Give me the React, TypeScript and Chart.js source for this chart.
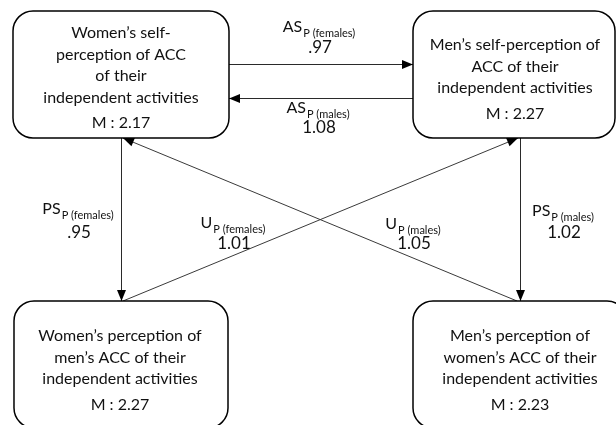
import React, { useEffect, useRef } from "react";
import { Chart, registerables } from "chart.js";

Chart.register(...registerables);

// ---------- data ----------
const nodeTitles: string[][] = [
  ["Women’s self-", "perception of ACC", "of their", "independent activities"],
  ["Men’s self-perception of", "ACC of their", "independent activities"],
  ["Women’s perception of", "men’s ACC of their", "independent activities"],
  ["Men’s perception of", "women’s ACC of their", "independent activities"],
];
const nodeMeans: number[] = [2.17, 2.27, 2.27, 2.23];

const pathNames: string[] = ["AS", "AS", "PS", "PS", "U", "U"];
const pathSubs: string[] = ["P (females)", "P (males)", "P (females)", "P (males)", "P (females)", "P (males)"];
const pathValues: number[] = [0.97, 1.08, 0.95, 1.02, 1.01, 1.05];

// ---------- layout (diagram coordinates, same units as the scales) ----------
const boxes = [
  { x0: 13, y0: 11, x1: 229, y1: 138, tx: 121, ty: 33 },
  { x0: 413, y0: 11, x1: 615, y1: 138, tx: 515, ty: 45 },
  { x0: 14, y0: 301, x1: 228, y1: 428, tx: 120, ty: 336 },
  { x0: 413, y0: 301, x1: 627, y1: 428, tx: 520, ty: 336 },
];
const edges = [
  { a: [229, 64.5], b: [413, 64.5], lx: 319, ly: 27, vy: 48 },
  { a: [413, 98.5], b: [229, 98.5], lx: 318, ly: 108, vy: 128 },
  { a: [121.5, 138], b: [121.5, 301], lx: 78, ly: 209, vy: 233 },
  { a: [520.5, 138], b: [520.5, 301], lx: 563, ly: 211, vy: 233 },
  { a: [123, 301], b: [518, 138], lx: 233, ly: 223, vy: 244 },
  { a: [517, 301], b: [123, 138], lx: 413, ly: 224, vy: 244 },
];

const FONT = "Lato, 'Open Sans', sans-serif";
const fmt = (v: number) => (v < 1 ? v.toFixed(2).replace(/^0/, "") : v.toFixed(2));

const diagramPlugin = {
  id: "diagram",
  beforeDraw(chart: any) {
    const ctx = chart.ctx;
    ctx.save();
    ctx.fillStyle = "#ffffff";
    ctx.fillRect(0, 0, chart.width, chart.height);
    ctx.restore();
  },
  afterDatasetsDraw(chart: any) {
    const ctx: CanvasRenderingContext2D = chart.ctx;
    const xs = chart.scales.x;
    const ys = chart.scales.y;
    const px = (v: number) => xs.getPixelForValue(v);
    const py = (v: number) => ys.getPixelForValue(v);
    ctx.save();

    // arrowheads
    edges.forEach((e) => {
      const ax = px(e.a[0]), ay = py(e.a[1]);
      const bx = px(e.b[0]), by = py(e.b[1]);
      const ang = Math.atan2(by - ay, bx - ax);
      const L = 11, W = 4.5;
      ctx.beginPath();
      ctx.moveTo(bx, by);
      ctx.lineTo(bx - L * Math.cos(ang) + W * Math.sin(ang), by - L * Math.sin(ang) - W * Math.cos(ang));
      ctx.lineTo(bx - L * Math.cos(ang) - W * Math.sin(ang), by - L * Math.sin(ang) + W * Math.cos(ang));
      ctx.closePath();
      ctx.fillStyle = "#000";
      ctx.fill();
    });

    // boxes
    boxes.forEach((b, i) => {
      const x0 = px(b.x0), x1 = px(b.x1), y0 = py(b.y0), y1 = py(b.y1);
      ctx.beginPath();
      (ctx as any).roundRect(x0, y0, x1 - x0, y1 - y0, 20);
      ctx.fillStyle = "#fff";
      ctx.fill();
      ctx.lineWidth = 1.5;
      ctx.strokeStyle = "#000";
      ctx.stroke();

      ctx.fillStyle = "#111";
      ctx.font = `16px ${FONT}`;
      ctx.textAlign = "center";
      ctx.textBaseline = "middle";
      const lines = nodeTitles[i];
      let y = b.ty;
      lines.forEach((t, k) => {
        ctx.fillText(t, px(b.tx), py(b.ty + k * 21.5));
        y = b.ty + k * 21.5;
      });
      ctx.fillText(`M : ${nodeMeans[i].toFixed(2)}`, px(b.tx), py(y + 25.5));
    });

    // path labels
    edges.forEach((e, i) => {
      const main = pathNames[i];
      const sub = pathSubs[i];
      ctx.fillStyle = "#111";
      ctx.textBaseline = "middle";
      ctx.font = `16px ${FONT}`;
      const wm = ctx.measureText(main).width;
      ctx.font = `11px ${FONT}`;
      const ws = ctx.measureText(sub).width;
      const start = px(e.lx) - (wm + ws + 1) / 2;
      ctx.textAlign = "left";
      ctx.font = `16px ${FONT}`;
      ctx.fillText(main, start, py(e.ly));
      ctx.font = `11px ${FONT}`;
      ctx.fillText(sub, start + wm + 1, py(e.ly + 6));
      ctx.textAlign = "center";
      ctx.font = `17px ${FONT}`;
      ctx.fillText(fmt(pathValues[i]), px(e.lx + 1), py(e.vy));
    });

    ctx.restore();
  },
};

export default function App() {
  const ref = useRef<HTMLCanvasElement | null>(null);
  useEffect(() => {
    if (!ref.current) return;
    const datasets = edges.map((e, i) => ({
      label: `${pathNames[i]} ${pathSubs[i]}`,
      data: [
        { x: e.a[0], y: e.a[1] },
        { x: e.b[0], y: e.b[1] },
      ],
      showLine: true,
      borderColor: i >= 4 ? "#3a3a3a" : "#2a2a2a",
      borderWidth: 1,
      pointRadius: 0,
      fill: false,
    }));
    const chart = new Chart(ref.current, {
      type: "scatter",
      data: { datasets },
      options: {
        animation: false,
        responsive: false,
        layout: { padding: 0 },
        plugins: { legend: { display: false }, tooltip: { enabled: false } },
        scales: {
          x: { type: "linear", min: 0, max: 616, display: false },
          y: { type: "linear", min: 0, max: 425, reverse: true, display: false },
        },
      },
      plugins: [diagramPlugin],
    } as any);
    return () => chart.destroy();
  }, []);
  return (
    <div style={{ position: "fixed", left: 0, top: 0, width: 616, height: 425, background: "#fff" }}>
      <canvas ref={ref} width={616} height={425} style={{ display: "block" }} />
    </div>
  );
}
